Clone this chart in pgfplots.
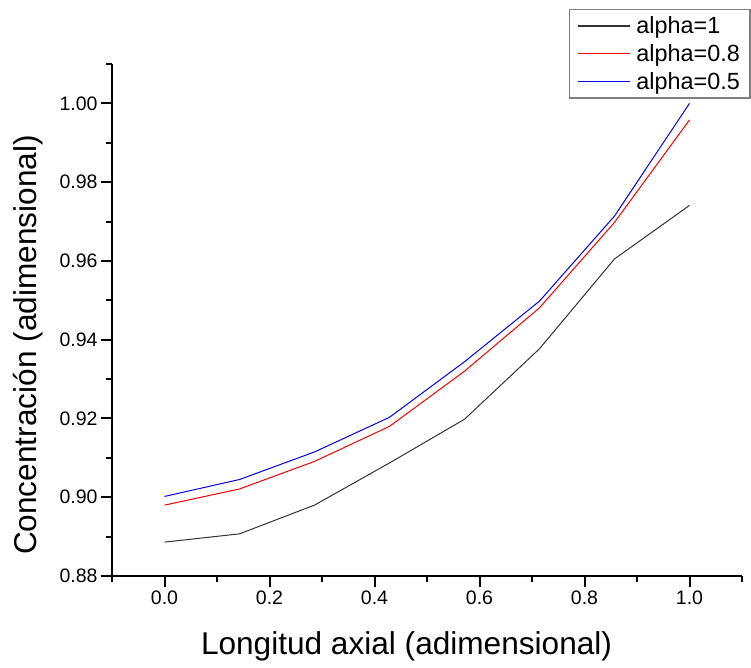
\documentclass[border=0pt]{standalone}
\usepackage{pgfplots}
\pgfplotsset{compat=1.18}
\usepackage{fontspec}
\setmainfont{Liberation Sans}
\begin{document}
\begin{tikzpicture}
\useasboundingbox (-112pt,-92pt) rectangle (639pt,576pt);
\begin{axis}[
  at={(0pt,0pt)}, anchor=south west,
  scale only axis, width=630pt, height=512pt,
  xmin=-0.1, xmax=1.1, ymin=0.88, ymax=1.01,
  axis lines=left,
  axis line style={-, line width=2.2pt, black},
  xtick={0,0.2,0.4,0.6,0.8,1.0},
  minor xtick={-0.1,0.1,0.3,0.5,0.7,0.9,1.1},
  ytick={0.88,0.90,0.92,0.94,0.96,0.98,1.00},
  minor ytick={0.89,0.91,0.93,0.95,0.97,0.99,1.01},
  tick align=outside,
  major tick length=11pt, minor tick length=6pt,
  tick style={line width=2pt, black},
  /pgf/number format/assume math mode=true,
  xticklabel style={/pgf/number format/.cd, fixed, fixed zerofill, precision=1},
  yticklabel style={/pgf/number format/.cd, fixed, fixed zerofill, precision=2},
  tick label style={font=\fontsize{19.5}{20}\selectfont},
  xlabel={Longitud axial (adimensional)},
  ylabel={Concentración (adimensional)},
  xlabel style={at={(axis description cs:0.4675,-0.154)}, anchor=base, font=\fontsize{31.6}{32}\selectfont},
  ylabel style={at={(axis description cs:-0.1206,0.451)}, anchor=base, font=\fontsize{31.6}{32}\selectfont},
  legend style={at={(1.0127,1.107)}, anchor=north east, draw=none, name=leg,
    font=\fontsize{23.4}{24}\selectfont, row sep=5.5pt, inner xsep=8pt, inner ysep=5pt,
    cells={anchor=west}},
  legend image code/.code={\draw[#1, line width=1.8pt] (0pt,0pt) -- (52pt,0pt); \path[draw=none] (0pt,0pt) -- (56pt,0pt);},
  clip=false,
]
\addplot[color=black!80, draw=black!80, line width=1pt] coordinates {
(0,0.8886) (0.142857,0.8907) (0.285714,0.8980) (0.428571,0.9087)
(0.571429,0.9198) (0.714286,0.9377) (0.857143,0.9605) (1,0.9741)};
\addlegendentry{alpha=1}
\addplot[color=red, draw=red, line width=1pt] coordinates {
(0,0.8980) (0.142857,0.9021) (0.285714,0.9091) (0.428571,0.9180)
(0.571429,0.9320) (0.714286,0.9481) (0.857143,0.9698) (1,0.9958)};
\addlegendentry{alpha=0.8}
\addplot[color=blue, draw=blue, line width=1pt] coordinates {
(0,0.9002) (0.142857,0.9045) (0.285714,0.9115) (0.428571,0.9203)
(0.571429,0.9344) (0.714286,0.9498) (0.857143,0.9714) (1,1.0000)};
\addlegendentry{alpha=0.5}
\end{axis}
\draw[gray, line width=1.2pt] (leg.south west) rectangle (leg.north east);
\end{tikzpicture}
\end{document}
